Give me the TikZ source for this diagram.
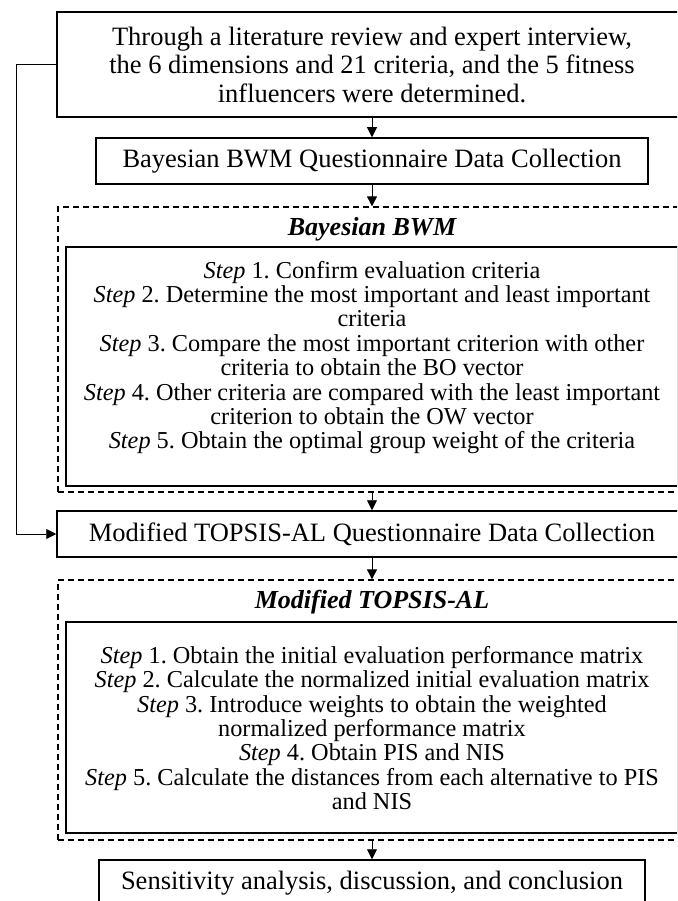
\documentclass[tikz,border=0pt]{standalone}
\usepackage{fontspec}
\setmainfont{Liberation Serif}
\frenchspacing
\usetikzlibrary{arrows.meta}

\tikzset{
	box/.style={draw, line width=1.5pt, align=center, inner sep=0pt, font=\fontsize{26.5}{28.5}\selectfont},
	dashbox/.style={draw, line width=1.3pt, dash pattern=on 6pt off 4pt, inner sep=0pt},
	stepbox/.style={draw, line width=1.5pt, inner sep=0pt},
	steptext/.style={align=center, inner sep=0pt, font=\fontsize{24.3}{24.4}\selectfont},
	title/.style={font=\fontsize{26}{28}\selectfont\bfseries\itshape},
	flow/.style={line width=0.9pt, -{Triangle[length=10pt,width=10pt]}}
}

\begin{document}
\begin{tikzpicture}[x=1pt,y=-1pt]
	\useasboundingbox (0,0) rectangle (677,901);
	\clip (0,0) rectangle (677,901);
	\node [box, minimum width=630pt, minimum height=105pt] (intro) at (372,64.5) {Through a literature review and expert interview,\\the 6 dimensions and 21 criteria, and the 5 fitness\\influencers were determined.};
	\node [box, minimum width=552pt, minimum height=46pt] (bwmdata) at (372,161) {Bayesian BWM Questionnaire Data Collection};
	\node [dashbox, minimum width=628pt, minimum height=285pt] (bwm) at (372,349.5) {};
	\node [title] (bwmtitle) at (372,229) {Bayesian BWM};
	\node [stepbox, minimum width=612pt, minimum height=239pt] (bwmsteps) at (372,366.5) {};
	\node [steptext] (bwmtext) at (372,357.5) {\textit{Step} 1. Confirm evaluation criteria\\\textit{Step} 2. Determine the most important and least important\\criteria\\\textit{Step} 3. Compare the most important criterion with other\\criteria to obtain the BO vector\\\textit{Step} 4. Other criteria are compared with the least important\\criterion to obtain the OW vector\\\textit{Step} 5. Obtain the optimal group weight of the criteria};
	\node [box, minimum width=630pt, minimum height=46pt] (topdata) at (372,534) {Modified TOPSIS-AL Questionnaire Data Collection};
	\node [dashbox, minimum width=628pt, minimum height=260pt] (topsis) at (372,710) {};
	\node [title] (topsistitle) at (372,602) {Modified TOPSIS-AL};
	\node [stepbox, minimum width=612pt, minimum height=211pt] (topsissteps) at (372,727.5) {};
	\node [steptext] (topsistext) at (372,728) {\textit{Step} 1. Obtain the initial evaluation performance matrix\\\textit{Step} 2. Calculate the normalized initial evaluation matrix\\\textit{Step} 3. Introduce weights to obtain the weighted\\normalized performance matrix\\\textit{Step} 4. Obtain PIS and NIS\\\textit{Step} 5. Calculate the distances from each alternative to PIS\\and NIS};
	\node [box, minimum width=546pt, minimum height=46pt] (final) at (372,883) {Sensitivity analysis, discussion, and conclusion};
	\draw [flow] (intro) -- (bwmdata);
	\draw [flow] (bwmdata) -- (bwm);
	\draw [flow] (bwm) -- (topdata);
	\draw [flow] (topdata) -- (topsis);
	\draw [flow] (topsis) -- (final);
	\draw [flow] (intro.west) -- ++(-40,0) |- (topdata.west);
\end{tikzpicture}
\end{document}
